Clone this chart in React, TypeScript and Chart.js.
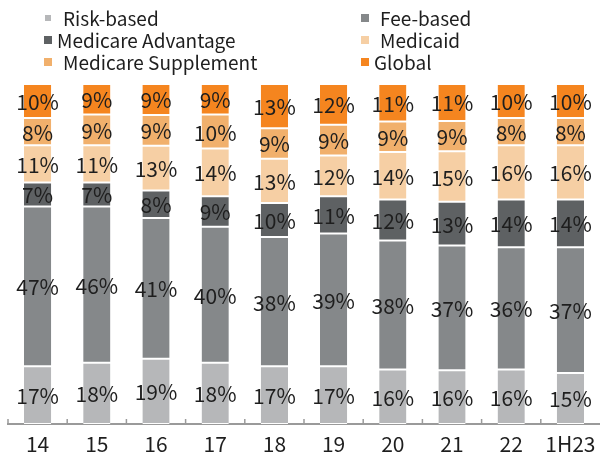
import React, { useEffect, useRef } from "react";
import { Chart, registerables } from "chart.js";

Chart.register(...registerables);

const categories = ["14", "15", "16", "17", "18", "19", "20", "21", "22", "1H23"];
const riskBased = [17, 18, 19, 18, 17, 17, 16, 16, 16, 15];
const feeBased = [47, 46, 41, 40, 38, 39, 38, 37, 36, 37];
const medicareAdvantage = [7, 7, 8, 9, 10, 11, 12, 13, 14, 14];
const medicaid = [11, 11, 13, 14, 13, 12, 14, 15, 16, 16];
const medicareSupplement = [8, 9, 9, 10, 9, 9, 9, 9, 8, 8];
const globalShare = [10, 9, 9, 9, 13, 12, 11, 11, 10, 10];

const seriesNames = ["Risk-based", "Fee-based", "Medicare Advantage", "Medicaid", "Medicare Supplement", "Global"];
const seriesValues = [riskBased, feeBased, medicareAdvantage, medicaid, medicareSupplement, globalShare];
const seriesColors = ["#b6b7b9", "#85888a", "#5e6163", "#f6cfa4", "#f1b06c", "#f5851f"];

const FONT = "'Noto Sans CJK KR', 'Noto Sans', sans-serif";

const labelPlugin = {
  id: "segLabels",
  afterDatasetsDraw(chart: any) {
    const ctx = chart.ctx;
    ctx.save();
    ctx.font = `21px ${FONT}`;
    ctx.fillStyle = "#1e1e1e";
    ctx.textAlign = "center";
    ctx.textBaseline = "middle";
    chart.data.datasets.forEach((ds: any, di: number) => {
      const meta = chart.getDatasetMeta(di);
      meta.data.forEach((bar: any, i: number) => {
        const raw = seriesValues[di][i];
        const y = (bar.y + bar.base) / 2;
        ctx.fillText(`${raw}%`, bar.x, y + 1);
      });
    });
    ctx.restore();
  },
};

const tickPlugin = {
  id: "upTicks",
  afterDraw(chart: any) {
    const ctx = chart.ctx;
    const xs = chart.scales.x;
    const bottom = chart.chartArea.bottom;
    const n = categories.length;
    const step = xs.getPixelForTick(1) - xs.getPixelForTick(0);
    ctx.save();
    ctx.strokeStyle = "#9a9a9a";
    ctx.lineWidth = 1.5;
    for (let i = 0; i < n; i++) {
      const x = xs.getPixelForTick(i) - step / 2;
      ctx.beginPath();
      ctx.moveTo(x, bottom - 5);
      ctx.lineTo(x, bottom);
      ctx.stroke();
    }
    ctx.restore();
  },
};

export default function App() {
  const ref = useRef<HTMLCanvasElement>(null);
  useEffect(() => {
    const totals = categories.map((_, i) => seriesValues.reduce((s, arr) => s + arr[i], 0));
    const chart = new Chart(ref.current as HTMLCanvasElement, {
      type: "bar",
      data: {
        labels: categories,
        datasets: seriesValues.map((vals, di) => ({
          label: seriesNames[di],
          data: vals.map((v, i) => (v / totals[i]) * 100),
          backgroundColor: seriesColors[di],
          borderColor: "#ffffff",
          borderWidth: { top: 1, bottom: 1, left: 0, right: 0 },
          borderSkipped: false,
          categoryPercentage: 1,
          barPercentage: 0.46,
        })),
      },
      options: {
        animation: false,
        responsive: false,
        maintainAspectRatio: false,
        layout: { padding: { top: 84, left: 8, right: -1, bottom: -8 } },
        plugins: { legend: { display: false }, tooltip: { enabled: false } },
        scales: {
          x: {
            stacked: true,
            afterFit: (scale: any) => {
              scale.paddingLeft = 0;
              scale.paddingRight = 0;
            },
            grid: { display: false, drawTicks: false },
            border: { display: true, color: "#9a9a9a", width: 2 },
            ticks: { color: "#1e1e1e", font: { family: FONT, size: 21, lineHeight: 1 }, padding: 10 },
          },
          y: { stacked: true, display: false, min: 0, max: 100 },
        },
      },
      plugins: [labelPlugin, tickPlugin],
    });
    return () => chart.destroy();
  }, []);

  const legendItem = (i: number, top: number, boxLeft: number, boxSize: number, textLeft: number) => (
    <div key={i} style={{ position: "absolute", left: 0, top, height: 22 }}>
      <span style={{ position: "absolute", left: boxLeft, top: 11 - boxSize / 2, width: boxSize, height: boxSize, background: seriesColors[i] }} />
      <span style={{ position: "absolute", left: textLeft, top: 0, whiteSpace: "nowrap", fontSize: 19, lineHeight: "22px", color: "#1e1e1e" }}>{seriesNames[i]}</span>
    </div>
  );

  return (
    <div style={{ position: "absolute", left: 0, top: 0, width: 600, height: 457, background: "#fff", fontFamily: FONT, overflow: "hidden" }}>
      <canvas ref={ref} width={600} height={457} style={{ position: "absolute", left: 0, top: 0, width: 600, height: 457 }} />
      {legendItem(0, 7, 45, 6, 63)}
      {legendItem(1, 7, 361, 8, 380)}
      {legendItem(2, 29, 44, 8, 57)}
      {legendItem(3, 29, 361, 8, 380)}
      {legendItem(4, 51, 44, 8, 63)}
      {legendItem(5, 51, 361, 8, 374)}
    </div>
  );
}
